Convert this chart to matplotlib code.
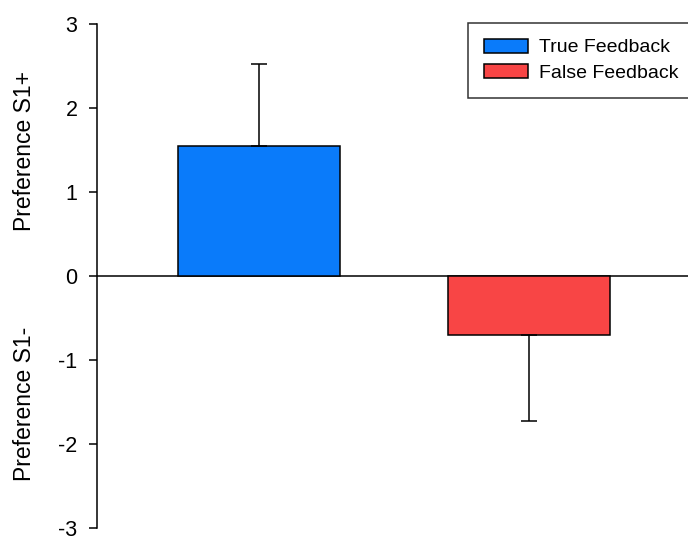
import matplotlib.pyplot as plt

plt.rcParams['font.family'] = ['Liberation Sans', 'DejaVu Sans']

'''Chart data'''
groups = ["True Feedback", "False Feedback"]
means = [1.54, -0.705]
err_up = [0.975, 0.0]        # error drawn away from zero
err_down = [0.0, 1.03]
bar_colors = ['#0A7BFA', '#F84545']
yticks = [-3, -2, -1, 0, 1, 2, 3]

fig = plt.figure(figsize=(6.88, 5.36), dpi=100)
ax = fig.add_axes([97 / 688, 1 - 527.5 / 536, 1 - 97 / 688, (527.5 - 23.5) / 536])

xpos = [1, 2]
ax.axhline(0, color='black', lw=1.1, zorder=1)
bars = ax.bar(xpos, means, width=0.6, color=bar_colors, edgecolor='black',
              linewidth=1.1, zorder=2, label=groups)
ax.errorbar(xpos, means, yerr=[err_down, err_up], fmt='none', ecolor='black',
            elinewidth=1.1, capsize=5.8, capthick=1.1, zorder=3)

ax.set_xlim(0.4, 2.589)
ax.set_ylim(-3, 3)
ax.set_yticks(yticks)
ax.set_yticklabels([str(t) for t in yticks], fontsize=15.5)
ax.tick_params(axis='y', direction='out', length=5.5, width=1.1, pad=8.5)
ax.set_xticks([])

for side in ['top', 'right', 'bottom']:
    ax.spines[side].set_visible(False)
ax.spines['left'].set_linewidth(1.1)

### Split y-axis labels
fig.text(25 / 688, 1 - 151 / 536, "Preference S1+", rotation=90,
         ha='center', va='center', fontsize=16.5)
fig.text(25 / 688, 1 - 404 / 536, "Preference S1-", rotation=90,
         ha='center', va='center', fontsize=16.5)

leg = ax.legend(bars, groups, loc='upper left',
                bbox_to_anchor=(468 / 688, 1 - 23 / 536),
                bbox_transform=fig.transFigure, fontsize=14,
                frameon=True, fancybox=False, edgecolor='black',
                handlelength=2.3, handleheight=0.75, handletextpad=0.55,
                labelspacing=0.4, borderpad=0.8, borderaxespad=0)
leg.get_frame().set_linewidth(1.1)

fig.savefig('out.png', dpi=100)
